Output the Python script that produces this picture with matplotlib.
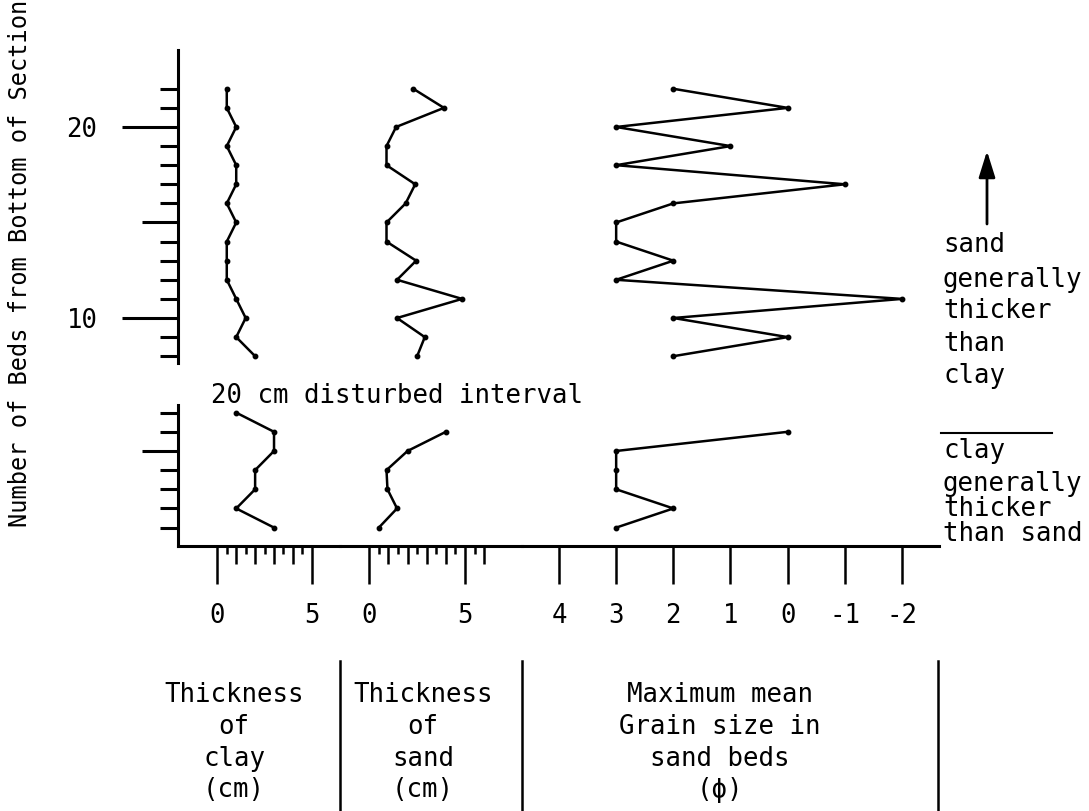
import numpy as np
import matplotlib
matplotlib.use("Agg")
import matplotlib.pyplot as plt
from matplotlib.lines import Line2D
from matplotlib.patches import FancyArrowPatch
from matplotlib.ticker import FuncFormatter

plt.rcParams['font.family'] = ['DejaVu Sans Mono', 'DejaVu Sans']

# ---- data: bed number (counted from the bottom of the section) ----
beds_upper = [22, 21, 20, 19, 18, 17, 16, 15, 14, 13, 12, 11, 10, 9, 8]
clay_upper = [0.5, 0.5, 1.0, 0.5, 1.0, 1.0, 0.5, 1.0, 0.5, 0.5, 0.5, 1.0, 1.5, 1.0, 2.0]
sand_upper = [2.3, 3.9, 1.4, 0.9, 0.9, 2.4, 1.9, 0.9, 0.9, 2.45, 1.45, 4.85, 1.45, 2.9, 2.5]
grain_upper = [2, 0, 3, 1, 3, -1, 2, 3, 3, 2, 3, -2, 2, 0, 2]

beds_lower = [7, 6, 5, 4, 3, 2, 1]
clay_lower = [1.0, 3.0, 3.0, 2.0, 2.0, 1.0, 3.0]
sand_lower = [np.nan, 4.0, 2.0, 0.9, 0.95, 1.45, 0.5]
grain_lower = [np.nan, 0, 3, 3, 3, 2, 3]

# tick definitions
ybed_major_upper = [10, 15, 20]
ybed_labels_upper = ['10', '', '20']
ybed_minor_upper = [b for b in range(8, 23) if b not in ybed_major_upper]
ybed_major_lower = [5]
ybed_minor_lower = [1, 2, 3, 4, 6, 7]

clay_ticks = [0, 1, 2, 3, 4, 5]
sand_ticks = [0, 1, 2, 3, 4, 5, 6]
grain_ticks = [4, 3, 2, 1, 0, -1, -2]

W, H = 1089, 811
fig = plt.figure(figsize=(W / 100, H / 100), dpi=100)
fig.patch.set_facecolor('white')

FS = 18.5
LW_AX = 2.2
LW_DATA = 1.8


def rect(x0, y0, x1, y1):
    """Pixel box (top-left origin) -> figure-fraction rectangle."""
    return [x0 / W, 1 - y1 / H, (x1 - x0) / W, (y1 - y0) / H]


def fx(x):
    return x / W


def fy(y):
    return 1 - y / H


# columns: pixel extent and x-limits of each panel
columns = {
    'clay': (178, 340, (-2.08, 6.49)),
    'sand': (340, 522, (-1.53, 7.98)),
    'grain': (522, 939, (4.647, -2.647)),
}
rows = {
    'upper': (50, 363, (7.644, 24.03)),
    'lower': (405, 546, (0.04, 7.40)),
}

axes = {}
for rname, (y0, y1, ylim) in rows.items():
    for cname, (x0, x1, xlim) in columns.items():
        ax = fig.add_axes(rect(x0, y0, x1, y1))
        ax.set_xlim(*xlim)
        ax.set_ylim(*ylim)
        ax.set_facecolor('none')
        for s in ax.spines.values():
            s.set_visible(False)
        ax.tick_params(which='both', left=False, bottom=False,
                       labelleft=False, labelbottom=False)
        axes[(rname, cname)] = ax

# ---- profiles ----
series = {
    'clay': (clay_upper, clay_lower),
    'sand': (sand_upper, sand_lower),
    'grain': (grain_upper, grain_lower),
}
for cname, (vu, vl) in series.items():
    axes[('upper', cname)].plot(vu, beds_upper, color='black', lw=LW_DATA,
                                marker='o', ms=3.2, clip_on=False)
    axes[('lower', cname)].plot(vl, beds_lower, color='black', lw=LW_DATA,
                                marker='o', ms=3.2, clip_on=False)

# ---- vertical bed axis ----
for rname, major, minor, labels in [
        ('upper', ybed_major_upper, ybed_minor_upper, ybed_labels_upper),
        ('lower', ybed_major_lower, ybed_minor_lower, [''])]:
    ax = axes[(rname, 'clay')]
    ax.spines['left'].set_visible(True)
    ax.spines['left'].set_linewidth(LW_AX)
    ax.set_yticks(major)
    ax.set_yticklabels(labels)
    ax.set_yticks(minor, minor=True)
    ax.tick_params(axis='y', which='major', left=True, labelleft=True,
                   length=40, width=LW_AX, pad=18, labelsize=FS, direction='out')
    ax.tick_params(axis='y', which='minor', left=True, length=13,
                   width=LW_AX, direction='out')
    for t, v in zip(ax.yaxis.get_major_ticks(), major):
        if v % 10:
            t.tick1line.set_markersize(26)

# ---- horizontal scales ----
for cname, ticks in [('clay', clay_ticks), ('sand', sand_ticks)]:
    ax = axes[('lower', cname)]
    ax.spines['bottom'].set_visible(True)
    ax.spines['bottom'].set_linewidth(LW_AX)
    ax.set_xticks(ticks)
    ax.set_xticklabels([str(t) if t in (0, 5) else '' for t in ticks])
    ax.set_xticks([t + 0.5 for t in ticks[:-1]], minor=True)
    ax.tick_params(axis='x', which='major', bottom=True, labelbottom=True,
                   length=27, width=1.8, pad=14, labelsize=FS, direction='out')
    ax.tick_params(axis='x', which='minor', bottom=True, length=6,
                   width=1.8, direction='out')
    for t, v in zip(ax.xaxis.get_major_ticks(), ticks):
        if v not in (0, 5):
            t.tick1line.set_markersize(13)

ax = axes[('lower', 'grain')]
ax.spines['bottom'].set_visible(True)
ax.spines['bottom'].set_linewidth(LW_AX)
ax.set_xticks(grain_ticks)
ax.xaxis.set_major_formatter(FuncFormatter(lambda v, p: '%d' % v))
ax.tick_params(axis='x', which='major', bottom=True, labelbottom=True,
               length=27, width=1.8, pad=14, labelsize=FS, direction='out')

# ---- texts ----
fig.text(fx(20), fy(263), 'Number of Beds from Bottom of Section',
         rotation=90, ha='center', va='center', fontsize=17)
fig.text(fx(211), fy(403), '20 cm disturbed interval',
         ha='left', va='baseline', fontsize=FS)

captions = [
    (234, ['Thickness', 'of', 'clay', '(cm)']),
    (423, ['Thickness', 'of', 'sand', '(cm)']),
    (720, ['Maximum mean', 'Grain size in', 'sand beds', '(\u03d5)']),
]
cap_baselines = [702, 734, 766, 797]
for xc, lines in captions:
    for line, yb in zip(lines, cap_baselines):
        fig.text(fx(xc), fy(yb), line, ha='center', va='baseline', fontsize=FS)

for xs in (340, 522, 938):
    fig.add_artist(Line2D([fx(xs), fx(xs)], [fy(661), fy(811)],
                          transform=fig.transFigure, color='black', lw=1.8))

upper_note = ['sand', 'generally', 'thicker', 'than', 'clay']
upper_base = [252, 287, 318, 351, 383]
lower_note = ['clay', 'generally', 'thicker', 'than sand']
lower_base = [458, 491, 516, 541]
for line, yb in zip(upper_note, upper_base):
    fig.text(fx(943), fy(yb), line, ha='left', va='baseline', fontsize=FS)
for line, yb in zip(lower_note, lower_base):
    fig.text(fx(943), fy(yb), line, ha='left', va='baseline', fontsize=FS)

fig.add_artist(Line2D([fx(941), fx(1052)], [fy(433), fy(433)],
                      transform=fig.transFigure, color='black', lw=1.5))
fig.add_artist(FancyArrowPatch((fx(987), fy(224)), (fx(987), fy(151)),
                               transform=fig.transFigure,
                               arrowstyle='-|>,head_length=0.8,head_width=0.25',
                               mutation_scale=20, lw=2.0, color='black',
                               shrinkA=0, shrinkB=0))

fig.savefig('out.png', dpi=100, facecolor='white')
